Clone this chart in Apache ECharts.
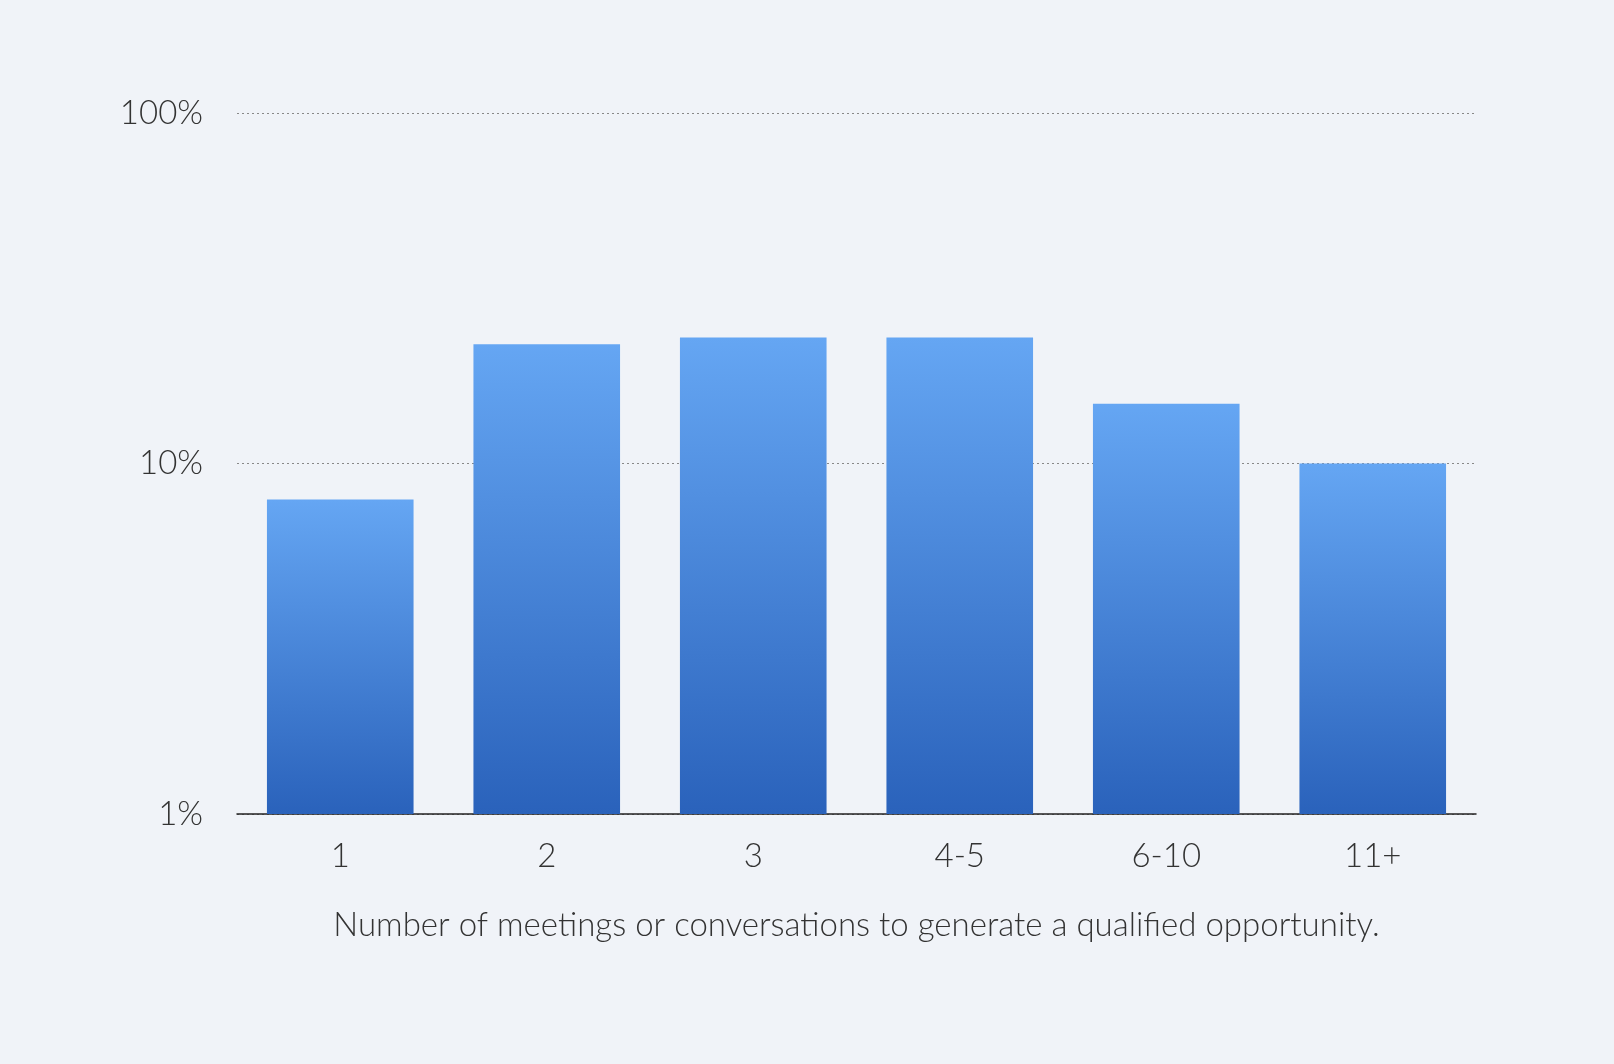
<!DOCTYPE html>
<html><head><meta charset="utf-8">
<script src="https://cdn.jsdelivr.net/npm/echarts@6/dist/echarts.min.js"></script>
<style>html,body{margin:0;padding:0;background:#f0f3f8}#c{width:1614px;height:1064px}</style>
</head><body><div id="c"></div>
<script>
const categories = ['1','2','3','4-5','6-10','11+'];
const values = [7.9, 21.9, 22.9, 22.9, 14.8, 10];
const xAxisName = 'Number of meetings or conversations to generate a qualified opportunity.';
const chart = echarts.init(document.getElementById('c'));
chart.setOption({
  backgroundColor:'#f0f3f8',
  animation:false,
  grid:{left:237,right:138,top:113,bottom:250},
  xAxis:{type:'category',data:categories,
    axisLine:{lineStyle:{color:'#222',width:1.5}},axisTick:{show:false},
    axisLabel:{fontFamily:'Lato',fontWeight:300,fontSize:33,color:'#333',margin:26},
    name:xAxisName,nameLocation:'middle',nameGap:95,
    nameTextStyle:{fontFamily:'Lato',fontWeight:300,fontSize:33,color:'#333'}},
  yAxis:{type:'log',min:1,max:100,logBase:10,
    axisLine:{show:false},axisTick:{show:false},
    axisLabel:{fontFamily:'Lato',fontWeight:300,fontSize:33,color:'#333',margin:34,formatter:v=>v+'%'},
    splitLine:{lineStyle:{type:[2,3],color:'#888',width:1}}},
  series:[{type:'bar',data:values,barWidth:'71%',
    itemStyle:{color:new echarts.graphic.LinearGradient(0,0,0,1,[{offset:0,color:'#65a6f3'},{offset:1,color:'#2a62bb'}])}}]
});
</script></body></html>
